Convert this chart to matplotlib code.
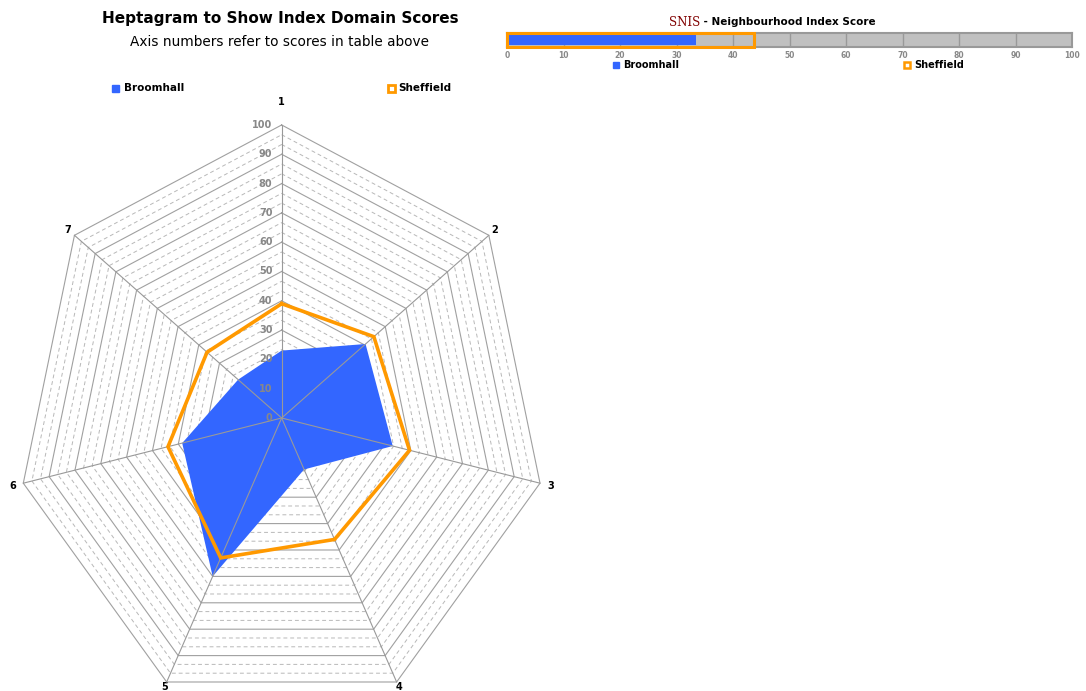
import numpy as np
import matplotlib
matplotlib.use("Agg")
import matplotlib.pyplot as plt

# domain scores
domains = ["1", "2", "3", "4", "5", "6", "7"]
broomhall = [23, 40.5, 43, 19.5, 60, 38.5, 21]
sheffield = [39, 44.5, 49.5, 46, 53, 44, 36]
ring_levels = [10, 20, 30, 40, 50, 60, 70, 80, 90, 100]
tick_levels = [0, 10, 20, 30, 40, 50, 60, 70, 80, 90, 100]

# neighbourhood index score bar
index_names = ["Broomhall", "Sheffield"]
index_scores = [33.5, 43.7]
bar_ticks = [0, 10, 20, 30, 40, 50, 60, 70, 80, 90, 100]

BLUE = "#3366ff"
ORANGE = "#ff9900"

W, H = 1086, 691
fig = plt.figure(figsize=(W / 100, H / 100), dpi=100)
fig.patch.set_facecolor("white")

# ---------------- heptagram ----------------
ax = fig.add_axes([3.4 / W, 0.5 / H, 556.5 / W, 600.7 / H])
ax.set_xlim(-105, 105)
ax.set_ylim(-93, 112)
ax.axis("off")

n = len(domains)
theta = np.arange(n) * 2 * np.pi / n
sx, cy = np.sin(theta), np.cos(theta)
closed = np.append(np.arange(n), 0)


def poly(r):
    r = np.asarray(r, dtype=float)
    return r * sx, r * cy


# dashed minor rings
for lev in ring_levels:
    for k in (1, 2):
        r = lev - 10 + k * 10 / 3
        x, y = poly(np.full(n, r))
        ax.plot(x[closed], y[closed], color="#b8b8b8", lw=0.7,
                dashes=(4, 3), zorder=1)
# solid rings
for lev in ring_levels:
    x, y = poly(np.full(n, lev))
    ax.plot(x[closed], y[closed], color="#a0a0a0", lw=0.8, zorder=2)

# Broomhall filled area
bx, by = poly(broomhall)
ax.fill(bx, by, color=BLUE, lw=0, zorder=3)

# spokes
for i in range(n):
    ax.plot([0, 100 * sx[i]], [0, 100 * cy[i]], color="#999999", lw=0.8, zorder=4)

# Sheffield outline
shx, shy = poly(sheffield)
ax.plot(shx[closed], shy[closed], color=ORANGE, lw=2.6, zorder=5,
        solid_joinstyle="miter")

# radial tick labels
for lev in tick_levels:
    ax.text(-3.5, lev, str(lev), ha="right", va="center", fontsize=7,
            fontweight="bold", color="#888888", zorder=6)

# domain labels
label_r = [108, 103, 104, 102, 102, 104, 103]
for i, lab in enumerate(domains):
    ax.text(label_r[i] * sx[i], label_r[i] * cy[i], lab, ha="center",
            va="center", fontsize=7, fontweight="bold", color="black",
            clip_on=False)

fig.text(280 / W, 1 - 18 / H, "Heptagram to Show Index Domain Scores",
         ha="center", va="center", fontsize=11, fontweight="bold")
fig.text(280 / W, 1 - 42 / H, "Axis numbers refer to scores in table above",
         ha="center", va="center", fontsize=9.8)

# radar legend
fig.patches.append(plt.Rectangle((112 / W, 1 - 92 / H), 7 / W, 7 / H,
                                 transform=fig.transFigure, color=BLUE))
fig.text(124 / W, 1 - 88 / H, index_names[0], ha="left", va="center",
         fontsize=7.5, fontweight="bold")
fig.patches.append(plt.Rectangle((388 / W, 1 - 92 / H), 7 / W, 7 / H,
                                 transform=fig.transFigure, fill=False,
                                 edgecolor=ORANGE, lw=2))
fig.text(398 / W, 1 - 88 / H, index_names[1], ha="left", va="center",
         fontsize=7.5, fontweight="bold")

# ---------------- index score bar ----------------
bx_ = fig.add_axes([507 / W, 1 - 47 / H, 565 / W, 14 / H])
bx_.set_facecolor("#c0c0c0")
bx_.set_xlim(0, 100)
bx_.set_ylim(0, 1)
bx_.set_axisbelow(True)
bx_.grid(axis="x", color="#999999", lw=1)
bx_.set_xticks(bar_ticks)
bx_.set_xticklabels([str(t) for t in bar_ticks])
bx_.set_yticks([])
bx_.tick_params(axis="x", length=0, pad=3, labelsize=5.5, labelcolor="#888888")
for lab in bx_.get_xticklabels():
    lab.set_fontweight("bold")
for sp in bx_.spines.values():
    sp.set_color("#999999")
    sp.set_linewidth(1.5)
bx_.barh(0.5, index_scores[0], height=0.7, color=BLUE, lw=0, zorder=3)
bx_.barh(0.5, index_scores[1], height=1.0, fill=False, edgecolor=ORANGE,
         lw=2.2, zorder=4, clip_on=False)

fig.text(700 / W, 1 - 22 / H, "SNIS", ha="right", va="center", fontsize=8.5,
         family="DejaVu Serif", color="#800000")
fig.text(700 / W, 1 - 22 / H, " - Neighbourhood Index Score", ha="left",
         va="center", fontsize=7.5, fontweight="bold")

fig.patches.append(plt.Rectangle((613 / W, 1 - 68 / H), 6 / W, 6 / H,
                                 transform=fig.transFigure, color=BLUE))
fig.text(623 / W, 1 - 65 / H, index_names[0], ha="left", va="center",
         fontsize=7, fontweight="bold")
fig.patches.append(plt.Rectangle((904 / W, 1 - 68 / H), 6 / W, 6 / H,
                                 transform=fig.transFigure, fill=False,
                                 edgecolor=ORANGE, lw=1.8))
fig.text(914 / W, 1 - 65 / H, index_names[1], ha="left", va="center",
         fontsize=7, fontweight="bold")

fig.savefig("out.png", dpi=100, facecolor="white")
